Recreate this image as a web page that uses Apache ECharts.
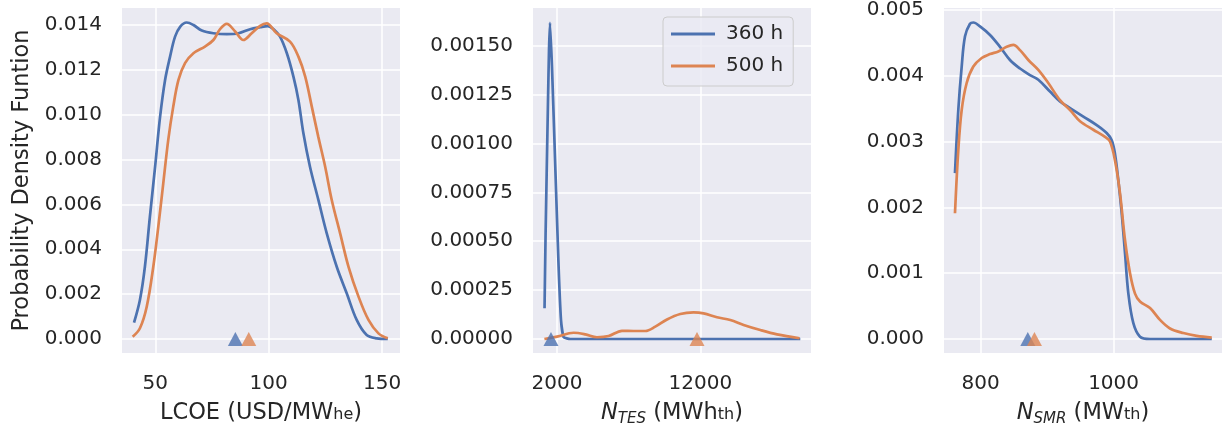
<!DOCTYPE html>
<html>
<head>
<meta charset="utf-8">
<script src="https://cdn.jsdelivr.net/npm/echarts@6/dist/echarts.min.js"></script>
<style>
  html, body { margin: 0; padding: 0; background: #fff; }
  #chart { width: 1222px; height: 427px; }
</style>
</head>
<body>
<div id="chart"></div>
<script>
// KDE curves, [x, density]
const lcoe360 = [[40.6,0.00073],[43.2,0.00174],[45.4,0.00322],[47.6,0.00545],[49.9,0.00768],[52.1,0.00991],[54.3,0.01155],[56.5,0.01259],[58.7,0.01348],[61.0,0.01393],[63.8,0.01411],[66.8,0.01400],[70.5,0.01375],[75.6,0.01363],[81.5,0.01359],[86.7,0.01363],[91.8,0.01381],[96.2,0.0139],[99.5,0.01395],[102.5,0.01378],[105,0.01348],[108,0.01274],[110.9,0.0117],[113.1,0.01066],[115.3,0.00917],[118.2,0.00768],[121.9,0.0062],[125.6,0.00471],[130,0.00322],[134.4,0.00204],[138.8,0.00085],[143.2,0.00018],[147.6,0.00003],[152.5,0]];
const lcoe500 = [[40.0,0.0001],[43.2,0.00048],[46.2,0.00144],[49.1,0.00322],[51.3,0.005],[53.5,0.00694],[55.7,0.00888],[57.9,0.01036],[60.2,0.01155],[63.1,0.0123],[66.8,0.01274],[71.9,0.01304],[75.6,0.01333],[78.5,0.01381],[81.5,0.01405],[85.2,0.01371],[88.8,0.01333],[92.5,0.01363],[96.2,0.01396],[99.1,0.01407],[103.5,0.01363],[109.4,0.01326],[113.1,0.01259],[116.1,0.0117],[119,0.01036],[121.9,0.009],[124.9,0.00768],[127.8,0.0062],[131.5,0.00471],[135.2,0.00322],[139.6,0.00189],[144,0.00085],[148.4,0.00025],[152.5,0.00003]];
const tes360 = [[1130,0.000157],[1204,0.00054],[1372,0.00122],[1442,0.00148],[1511,0.001617],[1651,0.00139],[1881,0.00088],[2111,0.00037],[2279,0.000097],[2460,0.00001],[2928,0],[6000,0],[10000,0],[14000,0],[18978,0]];
const tes500 = [[1120,0],[2000,0.000012],[3158,0.000032],[3975,0.000024],[4791,0.000009],[5600,0.000015],[6536,0.000042],[7345,0.000041],[8162,0.000041],[8860,0.000063],[9676,0.0001],[10604,0.000128],[11533,0.000136],[12231,0.000131],[13165,0.000111],[14094,0.000097],[15022,0.000072],[16187,0.000046],[17352,0.000024],[18930,0.000004]];
const smr360 = [[761.5,0.00252],[766.5,0.00348],[771.6,0.00414],[776.6,0.0046],[784.1,0.00479],[789.1,0.00481],[799.1,0.00475],[814.2,0.00462],[829.2,0.00444],[844.2,0.00424],[859.3,0.00411],[874.3,0.00401],[886.8,0.00394],[904.4,0.00376],[919.4,0.00361],[934.5,0.00351],[954.5,0.00338],[974.6,0.00325],[989.6,0.00313],[997.2,0.00302],[1002,0.00282],[1007,0.00242],[1012.2,0.00191],[1017.2,0.0013],[1022.2,0.00069],[1029.7,0.00024],[1039.7,0.000035],[1054.8,0],[1100,0],[1147.6,0]];
const smr500 = [[761.5,0.00191],[766.5,0.00287],[771.6,0.00348],[779.1,0.00389],[789.1,0.00414],[801.7,0.00427],[814.2,0.00433],[826.7,0.00437],[839.3,0.00444],[849.2,0.00447],[859.3,0.00439],[871.8,0.00424],[886.8,0.00409],[901.8,0.00389],[919.4,0.00363],[934.5,0.00348],[949.5,0.00331],[969.5,0.00318],[987.1,0.00307],[994.6,0.003],[1002,0.00272],[1009.7,0.00221],[1017.2,0.0015],[1024.7,0.001],[1032.2,0.00069],[1039.7,0.00057],[1054.8,0.00047],[1069.8,0.00029],[1084.8,0.00016],[1104.9,0.00009],[1125,0.000046],[1147.6,0.00002]];

// means (triangles), order: 360 h, 500 h
const lcoeMeans = [85.3, 91.2];
const tesMeans = [1580, 11770];
const smrMeans = [871, 881];

// tick values
const lcoeXTicks = [50, 100, 150];
const tesXTicks = [2000, 12000];
const smrXTicks = [800, 1000];
const lcoeYTicks = [0, 0.002, 0.004, 0.006, 0.008, 0.010, 0.012, 0.014];
const tesYTicks = [0, 0.00025, 0.0005, 0.00075, 0.001, 0.00125, 0.0015];
const smrYTicks = [0, 0.001, 0.002, 0.003, 0.004, 0.005];

const seriesNames = ['360 h', '500 h'];
const colors = ['#4c72b0', '#dd8452'];
const textColor = '#262626';
const font = 'DejaVu Sans';

const chart = echarts.init(document.getElementById('chart'));

const subRich = {
  s: { fontSize: 16, fontFamily: font, color: textColor, padding: [3, 0, 0, 0] },
  i: { fontSize: 22.5, fontStyle: 'italic', fontFamily: font, color: textColor },
  is: { fontSize: 15, fontStyle: 'italic', fontFamily: font, color: textColor, verticalAlign: 'bottom', lineHeight: 17 }
};

function xAxis(idx, min, max, ticks, name) {
  return {
    type: 'value', gridIndex: idx, min: min, max: max,
    name: name, nameLocation: 'middle', nameGap: 46,
    nameTextStyle: { fontSize: 22.5, fontFamily: font, color: textColor, lineHeight: 28, rich: subRich },
    axisLine: { show: false },
    axisTick: { show: false, customValues: ticks },
    axisLabel: { customValues: ticks, margin: 21, fontSize: 20, fontFamily: font, color: textColor,
      formatter: v => String(v) },
    splitLine: { show: true, lineStyle: { color: '#ffffff', width: 1.5 } }
  };
}

function yAxis(idx, min, max, ticks, digits, name) {
  return {
    type: 'value', gridIndex: idx, min: min, max: max,
    name: name || '', nameLocation: 'middle', nameGap: 88, nameRotate: 90,
    nameTextStyle: { fontSize: 22.5, fontFamily: font, color: textColor },
    axisLine: { show: false },
    axisTick: { show: false, customValues: ticks },
    axisLabel: {
      customValues: ticks, margin: 20, fontSize: 20, fontFamily: font, color: textColor,
      formatter: v => v.toFixed(digits)
    },
    splitLine: { show: true, lineStyle: { color: '#ffffff', width: 1.5 } }
  };
}

function curve(idx, k, data) {
  return {
    type: 'line', name: seriesNames[k], xAxisIndex: idx, yAxisIndex: idx,
    data: data, symbol: 'none', smooth: 0.35,
    lineStyle: { color: colors[k], width: 2.7 },
    itemStyle: { color: colors[k] },
    z: 3
  };
}

function mean(idx, k, v) {
  return {
    type: 'scatter', name: seriesNames[k], xAxisIndex: idx, yAxisIndex: idx,
    data: [[v, 0]], symbol: 'triangle', symbolSize: [15, 14],
    itemStyle: { color: colors[k] }, z: 4 + k
  };
}

const grids = [
  { left: 122, top: 8, width: 278, height: 345 },
  { left: 533, top: 8, width: 278, height: 345 },
  { left: 944, top: 8, width: 278, height: 345 }
].map(g => Object.assign(g, { show: true, backgroundColor: '#eaeaf2', borderWidth: 0, containLabel: false, outerBoundsMode: 'none' }));

chart.setOption({
  animation: false,
  grid: grids,
  xAxis: [
    xAxis(0, 35.3, 157.9, lcoeXTicks, 'LCOE (USD/MW{s|he})'),
    xAxis(1, 325, 19725, tesXTicks, '{i|N}{is|TES} (MWh{s|th})'),
    xAxis(2, 745, 1163, smrXTicks, '{i|N}{is|SMR} (MW{s|th})')
  ],
  yAxis: [
    yAxis(0, -0.000624, 0.014757, lcoeYTicks, 3, 'Probability Density Funtion'),
    yAxis(1, -0.0000716, 0.0016926, tesYTicks, 5),
    yAxis(2, -0.000213, 0.00503, smrYTicks, 3)
  ],
  legend: {
    data: seriesNames.map(n => ({ name: n, icon: 'rect' })),
    orient: 'vertical', left: 663, top: 17,
    itemWidth: 44, itemHeight: 3, itemGap: 12,
    padding: [7, 10, 10, 8],
    backgroundColor: 'rgba(234,234,242,0.8)', borderColor: '#cccccc', borderWidth: 1, borderRadius: 4,
    textStyle: { fontSize: 20, fontFamily: font, color: textColor, padding: [0, 0, 0, 6], lineHeight: 20 }
  },
  series: [
    curve(0, 0, lcoe360), curve(0, 1, lcoe500), mean(0, 0, lcoeMeans[0]), mean(0, 1, lcoeMeans[1]),
    Object.assign(curve(1, 0, tes360), { smooth: 0.15 }), curve(1, 1, tes500), mean(1, 0, tesMeans[0]), mean(1, 1, tesMeans[1]),
    curve(2, 0, smr360), curve(2, 1, smr500), mean(2, 0, smrMeans[0]), mean(2, 1, smrMeans[1])
  ]
});

window.addEventListener('resize', () => chart.resize());
</script>
</body>
</html>
